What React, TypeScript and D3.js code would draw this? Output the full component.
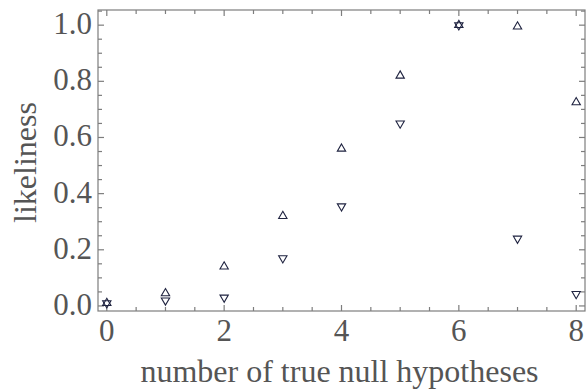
import React from 'react';
import * as d3 from 'd3';

// values
const nullCounts = [0, 1, 2, 3, 4, 5, 6, 7, 8];
const upperLikeliness = [0.01, 0.045, 0.14, 0.32, 0.56, 0.82, 1.0, 0.995, 0.725];
const lowerLikeliness = [0.01, 0.02, 0.03, 0.17, 0.355, 0.65, 1.0, 0.24, 0.043];
const xTickLabels = ['0', '2', '4', '6', '8'];
const yTickLabels = ['0.0', '0.2', '0.4', '0.6', '0.8', '1.0'];

const W = 586;
const H = 390;
const margin = { left: 98, right: 1, top: 10, bottom: 79 };

export default function App() {
  const x = d3.scaleLinear().domain([-0.15, 8.15]).range([margin.left, W - margin.right]);
  const y = d3.scaleLinear().domain([-0.018, 1.054]).range([H - margin.bottom, margin.top]);

  const [x0, x1] = x.range();
  const [y0, y1] = y.range(); // y0 bottom, y1 top

  const xMinor = d3.range(0, 8.01, 0.5);
  const yMinor = d3.range(0, 1.051, 0.05);

  const tri = d3.symbol().type(d3.symbolTriangle).size(30)();

  const axisColor = '#7d7d7d';
  const textColor = '#555555';
  const markColor = '#1f2340';
  const font = '"Liberation Serif", "DejaVu Serif", serif';

  const isMajorX = (v: number) => Math.abs(v % 2) < 1e-6;
  const isMajorY = (v: number) => Math.abs(Math.round(v * 100) % 20) < 1e-6;

  return (
    <svg
      width={W}
      height={H}
      style={{ position: 'fixed', left: 0, top: 0, background: '#fff' }}
      fontFamily={font}
    >
      {/* frame */}
      <rect x={x0} y={y1} width={x1 - x0} height={y0 - y1} fill="none" stroke={axisColor} strokeWidth={1.2} />

      {/* x ticks, bottom and top, pointing inward */}
      {xMinor.map((v) => {
        const len = isMajorX(v) ? 6 : 4;
        return (
          <g key={'xt' + v} stroke={axisColor} strokeWidth={1.2}>
            <line x1={x(v)} x2={x(v)} y1={y0} y2={y0 - len} />
            <line x1={x(v)} x2={x(v)} y1={y1} y2={y1 + len} />
          </g>
        );
      })}

      {/* y ticks, left and right */}
      {yMinor.map((v) => {
        const len = isMajorY(v) ? 6 : 4;
        return (
          <g key={'yt' + v} stroke={axisColor} strokeWidth={1.2}>
            <line x1={x0} x2={x0 + len} y1={y(v)} y2={y(v)} />
            <line x1={x1} x2={x1 - len} y1={y(v)} y2={y(v)} />
          </g>
        );
      })}

      {/* tick labels */}
      {xTickLabels.map((t) => (
        <text key={'xl' + t} x={x(+t)} y={y0 + 30} textAnchor="middle" fontSize={31} fill={textColor}>
          {t}
        </text>
      ))}
      {yTickLabels.map((t) => (
        <text key={'yl' + t} x={x0 - 6} y={y(+t) + 9} textAnchor="end" fontSize={31} fill={textColor}>
          {t}
        </text>
      ))}

      {/* axis titles */}
      <text x={(x0 + x1) / 2 - 2} y={382} textAnchor="middle" fontSize={32} fill={textColor}>
        number of true null hypotheses
      </text>
      <text
        transform={`translate(36,${(y0 + y1) / 2 + 2}) rotate(-90)`}
        textAnchor="middle"
        fontSize={32}
        fill={textColor}
      >
        likeliness
      </text>

      {/* markers */}
      {nullCounts.map((n, i) => (
        <g key={'m' + n} fill="none" stroke={markColor} strokeWidth={1.1}>
          <path d={tri!} transform={`translate(${x(n)},${y(upperLikeliness[i])})`} />
          <path d={tri!} transform={`translate(${x(n)},${y(lowerLikeliness[i])}) rotate(180)`} />
        </g>
      ))}
    </svg>
  );
}
